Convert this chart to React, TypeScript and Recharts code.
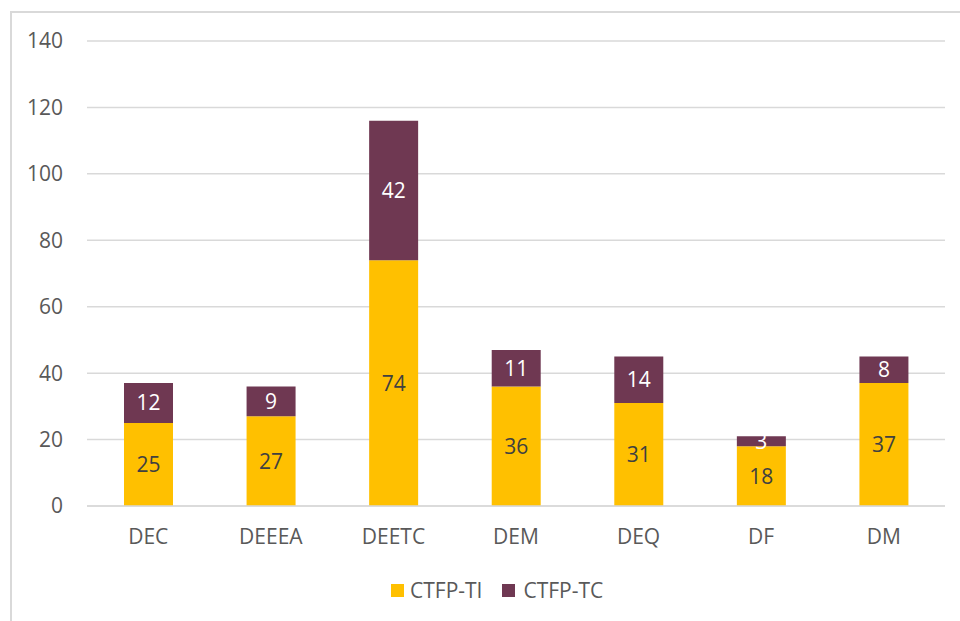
import React from "react";
import { BarChart, Bar, XAxis, YAxis, CartesianGrid, Legend, LabelList } from "recharts";

const categories = ["DEC", "DEEEA", "DEETC", "DEM", "DEQ", "DF", "DM"];
const ctfpTI = [25, 27, 74, 36, 31, 18, 37];
const ctfpTC = [12, 9, 42, 11, 14, 3, 8];
const yTicks = [0, 20, 40, 60, 80, 100, 120, 140];

const data = categories.map((c, i) => ({ name: c, ti: ctfpTI[i], tc: ctfpTC[i] }));

const FONT = "'Open Sans', sans-serif";
const YELLOW = "#FFC000";
const MAROON = "#6F3852";
const TEXT = "#595959";
const FS = 21;

const LegendContent = () => (
  <div style={{ display: "flex", justifyContent: "flex-start", alignItems: "center", paddingLeft: 391, height: 30, fontFamily: FONT, fontSize: 21, color: TEXT }}>
    <span style={{ display: "inline-block", width: 13, height: 13, background: YELLOW, marginRight: 6 }} />
    <span style={{ marginRight: 20 }}>CTFP-TI</span>
    <span style={{ display: "inline-block", width: 13, height: 13, background: MAROON, marginRight: 8 }} />
    <span>CTFP-TC</span>
  </div>
);

export default function App() {
  return (
    <div style={{ position: "absolute", left: 0, top: 0, width: 960, height: 621, overflow: "hidden", background: "#fff" }}>
      <div style={{ position: "absolute", left: 10, top: 11, width: 980, height: 640, border: "2px solid #d9d9d9", boxSizing: "border-box" }} />
      <div style={{ position: "absolute", left: 0, top: 0 }}>
        <BarChart width={960} height={621} data={data} margin={{ top: 41, right: 15, bottom: 45, left: 0 }}>
          <CartesianGrid vertical={false} stroke="#d9d9d9" strokeWidth={1.5} />
          <XAxis
            dataKey="name"
            tickLine={false}
            axisLine={{ stroke: "#d9d9d9", strokeWidth: 1.5 }}
            tick={{ fill: TEXT, fontSize: FS, fontFamily: FONT }}
            tickMargin={17}
            height={40}
          />
          <YAxis
            width={87}
            domain={[0, 140]}
            ticks={yTicks}
            tickLine={false}
            axisLine={false}
            tick={{ fill: TEXT, fontSize: FS, fontFamily: FONT }}
            tickMargin={18}
          />
          <Legend
            verticalAlign="bottom"
            height={30}
            content={<LegendContent />}
            wrapperStyle={{ top: 575, left: 0, width: 960 }}
          />
          <Bar dataKey="ti" stackId="a" fill={YELLOW} barSize={49} isAnimationActive={false}>
            <LabelList dataKey="ti" position="center" fill="#404040" fontSize={FS} fontFamily={FONT} />
          </Bar>
          <Bar dataKey="tc" stackId="a" fill={MAROON} barSize={49} isAnimationActive={false}>
            <LabelList dataKey="tc" position="center" fill="#ffffff" fontSize={FS} fontFamily={FONT} />
          </Bar>
        </BarChart>
      </div>
    </div>
  );
}
